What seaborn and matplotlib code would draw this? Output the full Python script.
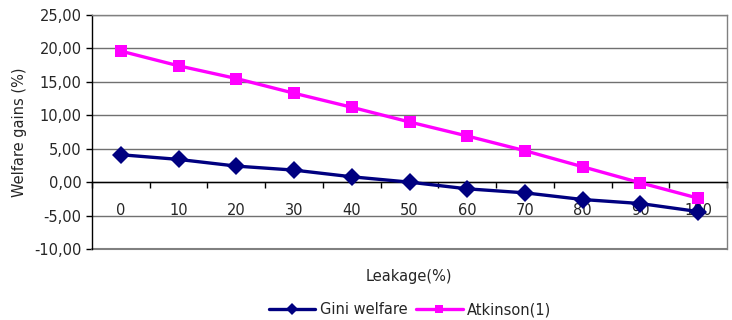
import matplotlib
matplotlib.use("Agg")
import matplotlib.pyplot as plt
import seaborn as sns
import pandas as pd
import numpy as np
from matplotlib.ticker import FuncFormatter, FixedLocator

categories = [0, 10, 20, 30, 40, 50, 60, 70, 80, 90, 100]
gini = [4.1, 3.4, 2.4, 1.8, 0.8, 0.0, -1.0, -1.6, -2.6, -3.2, -4.4]
atkinson = [19.6, 17.4, 15.5, 13.3, 11.2, 9.0, 6.9, 4.7, 2.3, -0.1, -2.4]
series_names = ["Gini welfare", "Atkinson(1)"]

df = pd.DataFrame({
    "pos": list(range(len(categories))) * 2,
    "val": gini + atkinson,
    "series": [series_names[0]] * len(categories) + [series_names[1]] * len(categories),
})

sns.set_style("ticks")
plt.rcParams['font.family'] = ['DejaVu Sans']

fig = plt.figure(figsize=(7.32, 3.2), dpi=100)
ax = fig.add_axes([92/732, 1-249/320, (727-92)/732, (249-15)/320])

sns.lineplot(data=df, x="pos", y="val", hue="series", style="series",
             palette={series_names[0]: "#000080", series_names[1]: "#FF00FF"},
             markers={series_names[0]: "D", series_names[1]: "s"},
             dashes=False, markersize=8.8, markeredgewidth=0, linewidth=2.4,
             ax=ax, legend=True, zorder=3)

ax.set_xlim(-0.5, len(categories) - 0.5)
ax.set_ylim(-10, 25)
yt = np.arange(-10, 26, 5)
ax.set_yticks(yt)
ax.yaxis.set_major_formatter(FuncFormatter(lambda v, p: f"{v:.2f}".replace(".", ",")))
ax.yaxis.grid(True, color="#707070", linewidth=1)
ax.set_axisbelow(True)
ax.axhline(-10, color="#808080", linewidth=1.5, clip_on=False, zorder=1)

ax.spines['bottom'].set_position(('data', 0))
ax.spines['bottom'].set_color('black')
ax.spines['left'].set_color('black')
ax.spines['top'].set_color('#808080')
ax.spines['right'].set_color('#808080')
for s in ax.spines.values():
    s.set_linewidth(1)

ax.set_xticks(range(len(categories)))
ax.set_xticklabels([str(c) for c in categories])
ax.xaxis.set_minor_locator(FixedLocator(np.arange(-0.5, len(categories), 1)))
ax.tick_params(axis='x', which='major', length=0, pad=15, labelsize=10.5, bottom=True)
ax.tick_params(axis='x', which='minor', length=4, width=1, direction='out', color='black', bottom=True)
ax.tick_params(axis='y', which='major', length=4, width=1, direction='out', color='black', labelsize=10.5, left=True)

ax.set_xlabel("")
ax.set_ylabel("Welfare gains (%)", fontsize=10.5)
ax.yaxis.set_label_coords(-0.103, 0.5)
fig.text(409/732, 1-277/320, "Leakage(%)", ha="center", va="center", fontsize=10.5)

handles, labels = ax.get_legend_handles_labels()
for h in handles:
    h.set_markersize(6)
ax.legend(handles=handles, labels=labels, loc="center", bbox_to_anchor=(410/732, 1-310/320),
          bbox_transform=fig.transFigure, ncol=2, frameon=False, fontsize=10.5,
          handlelength=3.2, columnspacing=0.6, handletextpad=0.3)

fig.savefig("out.png", dpi=100)
